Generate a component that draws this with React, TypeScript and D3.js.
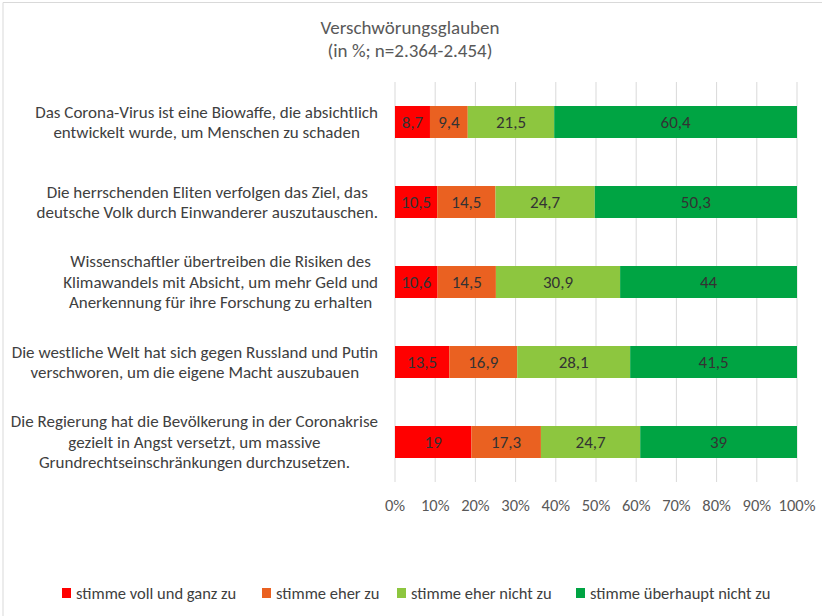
import { useMemo } from "react";
import * as d3 from "d3";

const width = 822;
const height = 616;
const font = "Carlito, Calibri, Lato, sans-serif";

const titleLines = ["Verschwörungsglauben", "(in %; n=2.364-2.454)"];

const statements = [
  ["Das Corona-Virus ist eine Biowaffe, die absichtlich", "entwickelt wurde, um Menschen zu schaden"],
  ["Die herrschenden Eliten verfolgen das Ziel, das", "deutsche Volk durch Einwanderer auszutauschen."],
  [
    "Wissenschaftler übertreiben die Risiken des",
    "Klimawandels mit Absicht, um mehr Geld und",
    "Anerkennung für ihre Forschung zu erhalten",
  ],
  ["Die westliche Welt hat sich gegen Russland und Putin", "verschworen, um die eigene Macht auszubauen"],
  [
    "Die Regierung hat die Bevölkerung in der Coronakrise",
    "gezielt in Angst versetzt, um massive",
    "Grundrechtseinschränkungen durchzusetzen.",
  ],
];

const answers = [
  "stimme voll und ganz zu",
  "stimme eher zu",
  "stimme eher nicht zu",
  "stimme überhaupt nicht zu",
];

const vollUndGanz = [8.7, 10.5, 10.6, 13.5, 19];
const eher = [9.4, 14.5, 14.5, 16.9, 17.3];
const eherNicht = [21.5, 24.7, 30.9, 28.1, 24.7];
const ueberhauptNicht = [60.4, 50.3, 44, 41.5, 39];

const xTicks = [0, 10, 20, 30, 40, 50, 60, 70, 80, 90, 100];

const colors = ["#ff0000", "#ea6121", "#8dc63f", "#00a443"];

const x = d3.scaleLinear().domain([0, 100]).range([395, 797]);
const y = d3
  .scaleBand<number>()
  .domain(d3.range(statements.length))
  .range([82, 482])
  .paddingInner(0.6)
  .paddingOuter(0.3);

const fmt = (v: number) => String(v).replace(".", ",");

const labelSize = 17;

let ctx: CanvasRenderingContext2D | null = null;
const measure = (s: string) => {
  if (!ctx) ctx = document.createElement("canvas").getContext("2d");
  if (!ctx) return s.length * 7;
  ctx.font = `${labelSize}px ${font}`;
  return ctx.measureText(s).width;
};

export default function App() {
  const rows = useMemo(
    () =>
      statements.map((_, i) => ({
        i,
        values: [vollUndGanz[i], eher[i], eherNicht[i], ueberhauptNicht[i]],
      })),
    []
  );
  const stack = d3
    .stack<{ i: number; values: number[] }, number>()
    .keys([0, 1, 2, 3])
    .value((d, k) => d.values[k]);
  const series = stack(rows);

  const legendX = [62, 262, 397, 576];

  return (
    <>
      <style>{`body{margin:0}`}</style>
      <svg width={width} height={height} style={{ display: "block", fontFamily: font }}>
        <rect width={width} height={height} fill="#fff" />
        <path d={`M3,${height} V2.5 H${width}`} fill="none" stroke="#d9d9d9" />

        {titleLines.map((t, i) => (
          <text key={t} x={410} y={34 + i * 23} textAnchor="middle" fontSize={19} fill="#595959">
            {t}
          </text>
        ))}

        {xTicks.map((t) => (
          <g key={t}>
            <line x1={x(t)} x2={x(t)} y1={82} y2={482} stroke="#d9d9d9" />
            <text x={x(t)} y={511} textAnchor="middle" fontSize={16.5} fill="#595959">
              {t}%
            </text>
          </g>
        ))}

        {series.map((s, k) => (
          <g key={k}>
            {s.map((d, i) => (
              <g key={i}>
                <rect
                  x={x(d[0])}
                  width={x(d[1]) - x(d[0])}
                  y={y(i)!}
                  height={y.bandwidth()}
                  fill={colors[k]}
                />
                <text
                  x={(x(d[0]) + x(d[1])) / 2}
                  y={y(i)! + y.bandwidth() / 2}
                  dy="0.35em"
                  textAnchor="middle"
                  fontSize={17}
                  fill="#333"
                >
                  {fmt(d.data.values[k])}
                </text>
              </g>
            ))}
          </g>
        ))}

        {statements.map((lines, i) => {
          const w = Math.max(...lines.map(measure));
          const cx = 378 - w / 2;
          const cy = y(i)! + y.bandwidth() / 2;
          const lh = 20.5;
          return (
            <text key={i} textAnchor="middle" fontSize={labelSize} fill="#404040">
              {lines.map((l, j) => (
                <tspan key={j} x={cx} y={cy + (j - (lines.length - 1) / 2) * lh} dy="0.35em">
                  {l}
                </tspan>
              ))}
            </text>
          );
        })}

        {answers.map((a, k) => (
          <g key={a} transform={`translate(${legendX[k]},593)`}>
            <rect x={0} y={-5} width={9} height={10} fill={colors[k]} />
            <text x={14} dy="0.35em" fontSize={16.5} fill="#404040">
              {a}
            </text>
          </g>
        ))}
      </svg>
    </>
  );
}
